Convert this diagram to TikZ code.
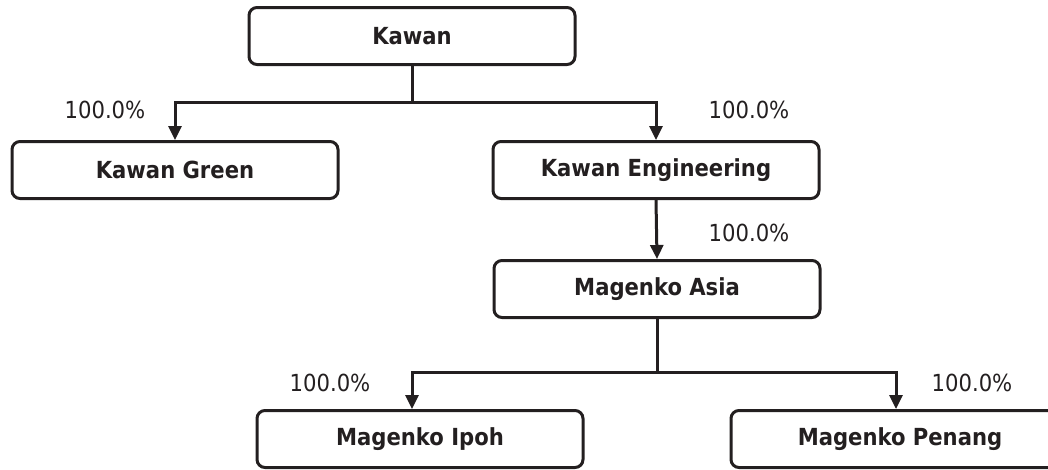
\documentclass[tikz,border=0pt]{standalone}
\usepackage{fontspec}
\setmainfont{DejaVu Sans Condensed}
\usetikzlibrary{arrows.meta}
\definecolor{inkgray}{HTML}{231F20}
\begin{document}
\begin{tikzpicture}[x=1pt,y=-1pt,line width=3pt,draw=inkgray,
>={Triangle[width=13pt,length=14pt]},
orgblock/.style={draw=inkgray,rectangle,rounded corners=8pt,minimum width=326pt,minimum height=57pt,line width=3pt,text=inkgray,font=\fontsize{23.5}{26}\selectfont\bfseries},
pct/.style={text=inkgray,font=\fontsize{23.5}{26}\selectfont}]
\useasboundingbox (0,0) rectangle (1048,469);

\draw (412,36) node[orgblock] (kawan) {Kawan};
\draw (175,170) node[orgblock] (green) {Kawan Green};
\draw (656,170) node[orgblock] (eng) {Kawan Engineering};
\draw (657,289) node[orgblock] (asia) {Magenko Asia};
\draw (420,439) node[orgblock] (ipoh) {Magenko Ipoh};
\draw (900,439) node[orgblock,minimum width=338pt] (penang) {Magenko Penang};

\draw (105,110) node[pct] (pgreen) {100.0\%};
\draw (749,110) node[pct] (peng) {100.0\%};
\draw (749,233) node[pct] (pasia) {100.0\%};
\draw (330,383) node[pct] (pipoh) {100.0\%};
\draw (972,383) node[pct] (ppenang) {100.0\%};

\draw[->] (kawan.south) -- ++(0,36) -| (green.north);
\draw[->] (kawan.south) -- ++(0,36) -| (eng.north);
\draw[->] (eng.south) -- (asia.north);
\draw[->] (asia.south) -- ++(0,53) -| ([xshift=-8pt]ipoh.north);
\draw[->] (asia.south) -- ++(0,53) -| ([xshift=-4pt]penang.north);

\end{tikzpicture}
\end{document}
